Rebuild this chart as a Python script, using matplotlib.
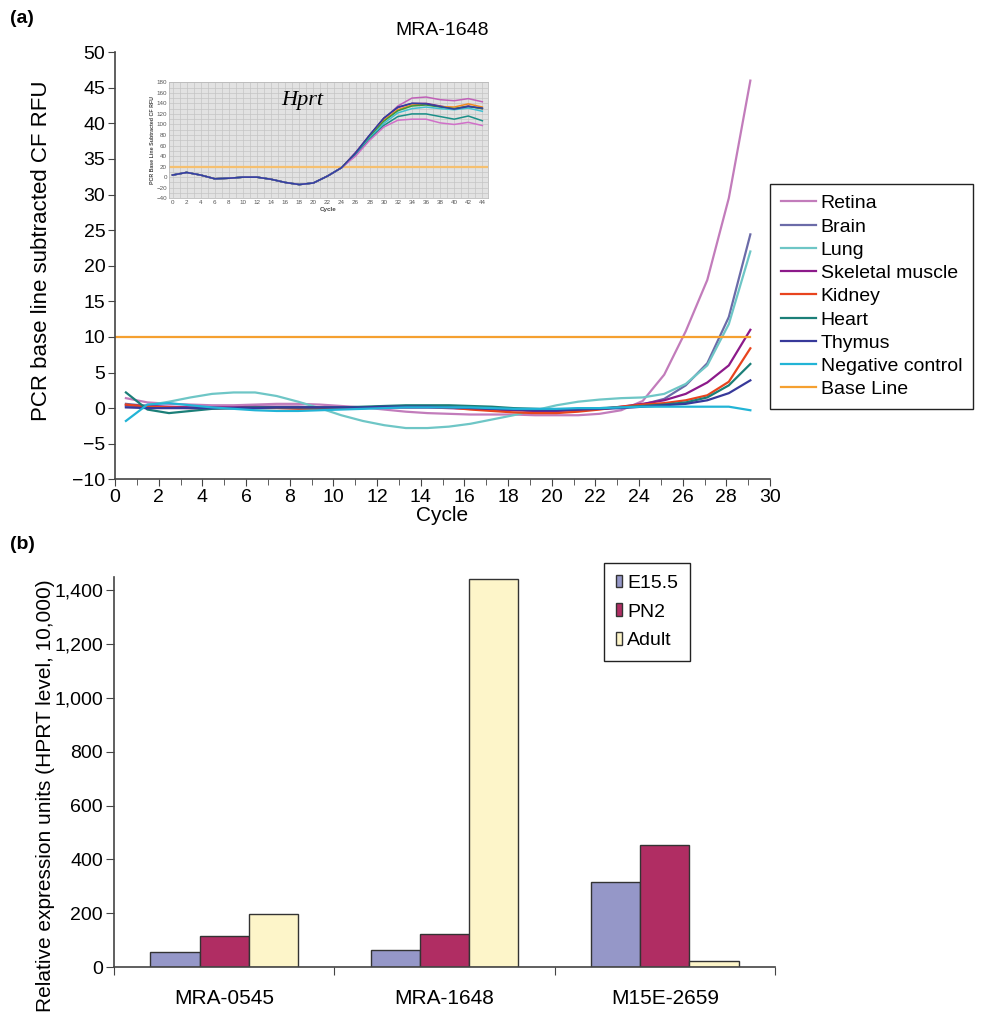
import numpy as np
import matplotlib
matplotlib.use('Agg')
import matplotlib.pyplot as plt

plt.rcParams['font.family'] = ['Liberation Sans', 'DejaVu Sans']

# Datos panel (a): curvas de amplificacion MRA-1648
ciclos = np.linspace(0.5, 29.1, 30)

retina = [1.4, 0.8, 0.6, 0.5, 0.4, 0.4, 0.5, 0.6, 0.6, 0.5, 0.3, 0.1, -0.2, -0.5, -0.7,
          -0.8, -0.9, -0.9, -0.9, -1.0, -1.0, -1.0, -0.8, -0.3, 1.0, 4.7, 10.8, 18.0, 29.5, 46.0]
cerebro = [0.6, 0.3, 0.1, 0.1, 0.1, 0.1, 0.1, 0.1, 0.1, 0.0, 0.0, 0.0, 0.1, 0.1, 0.1,
           0.1, 0.0, -0.1, -0.2, -0.3, -0.3, -0.2, -0.1, 0.1, 0.5, 1.3, 3.2, 6.3, 12.8, 24.4]
pulmon = [0.2, 0.4, 0.9, 1.5, 2.0, 2.2, 2.2, 1.7, 0.9, 0.0, -1.0, -1.8, -2.4, -2.8, -2.8,
          -2.6, -2.2, -1.6, -1.0, -0.3, 0.4, 0.9, 1.2, 1.4, 1.5, 2.0, 3.4, 6.0, 11.8, 22.0]
musculo = [0.4, 0.3, 0.2, 0.1, 0.1, 0.1, 0.2, 0.2, 0.2, 0.1, 0.1, 0.0, 0.1, 0.1, 0.1,
           0.0, -0.1, -0.2, -0.3, -0.4, -0.4, -0.3, -0.1, 0.2, 0.6, 1.1, 2.0, 3.6, 6.0, 11.0]
rinon = [0.5, 0.2, 0.1, 0.0, 0.0, 0.0, 0.0, 0.0, -0.1, -0.1, 0.0, 0.1, 0.2, 0.2, 0.2,
         0.1, -0.2, -0.4, -0.6, -0.7, -0.7, -0.5, -0.2, 0.2, 0.5, 0.7, 1.1, 1.8, 3.7, 8.4]
corazon = [2.2, -0.2, -0.7, -0.4, -0.1, 0.0, 0.1, 0.1, 0.1, 0.1, 0.1, 0.2, 0.3, 0.4, 0.4,
           0.4, 0.3, 0.2, 0.0, -0.1, -0.2, -0.1, 0.0, 0.1, 0.3, 0.5, 0.8, 1.5, 3.2, 6.2]
timo = [0.1, 0.0, 0.0, 0.0, 0.0, 0.0, 0.0, 0.1, 0.1, 0.1, 0.1, 0.1, 0.2, 0.2, 0.2,
        0.1, 0.0, -0.1, -0.2, -0.3, -0.3, -0.2, -0.1, 0.0, 0.2, 0.4, 0.6, 1.1, 2.1, 3.9]
control_neg = [-1.8, 0.5, 0.7, 0.4, 0.1, -0.1, -0.3, -0.4, -0.4, -0.3, -0.2, -0.1, 0.0, 0.1, 0.1,
               0.1, 0.1, 0.0, -0.1, -0.1, -0.1, 0.0, 0.0, 0.1, 0.2, 0.2, 0.2, 0.2, 0.2, -0.3]
linea_base = 10

series = [retina, cerebro, pulmon, musculo, rinon, corazon, timo, control_neg]
etiquetas = ['Retina', 'Brain', 'Lung', 'Skeletal muscle', 'Kidney', 'Heart', 'Thymus',
             'Negative control']
colores = ['#c27cbb', '#6b6ba8', '#6ec6c6', '#8c1a8a', '#e8441e', '#1b7f78', '#37399a',
           '#22b4d6']

# Datos del recuadro (Hprt): ciclos 0-24 comunes, 26-44 por curva
ciclos_ins = [0, 2, 4, 6, 8, 10, 12, 14, 16, 18, 20, 22, 24, 26, 28, 30, 32, 34, 36, 38, 40, 42, 44]
inicio_ins = [4, 9, 4, -3, -2, 0, 0, -4, -10, -14, -11, 2, 18]
finales_ins = [
    [45, 78, 110, 135, 150, 152, 147, 145, 149, 143],
    [47, 80, 112, 132, 140, 140, 135, 130, 135, 130],
    [45, 78, 108, 128, 137, 138, 134, 133, 139, 133],
    [44, 76, 106, 126, 135, 137, 133, 130, 134, 130],
    [43, 74, 102, 122, 130, 133, 130, 128, 131, 125],
    [42, 72, 98, 115, 120, 120, 115, 110, 116, 107],
    [40, 70, 95, 108, 110, 110, 103, 100, 104, 98],
    [46, 80, 112, 133, 140, 139, 134, 129, 134, 131],
]
colores_ins = ['#c060b8', '#7a1a8a', '#f08a20', '#3a9a3a', '#40c0d0', '#1b8f88', '#d070c8', '#3040a0']

# Datos panel (b)
ensayos = ['MRA-0545', 'MRA-1648', 'M15E-2659']
e155 = [56, 62, 316]
pn2 = [115, 122, 452]
adulto = [196, 1443, 22]

fig = plt.figure(figsize=(10, 10.22), dpi=100)

# ---------- Panel (a)
ax = fig.add_axes([0.115, 0.531, 0.655, 0.418])
for s, et, c in zip(series, etiquetas, colores):
    ax.plot(ciclos, s, color=c, lw=1.6, label=et)
ax.plot([0, ciclos[-1]], [linea_base, linea_base], color='#f5a030', lw=1.6, label='Base Line')

ax.set_xlim(0, 30)
ax.set_ylim(-10, 50)
ax.set_xticks(range(0, 31, 2))
ax.set_xticks(range(1, 30, 2), minor=True)
ax.set_yticks(range(-10, 51, 5))
ax.set_yticklabels([str(v).replace('-', '\u2212') for v in range(-10, 51, 5)])
ax.spines['top'].set_visible(False)
ax.spines['right'].set_visible(False)
for sp in ['left', 'bottom']:
    ax.spines[sp].set_color('#444444')
    ax.spines[sp].set_linewidth(1.2)
ax.tick_params(axis='both', which='both', direction='out', color='#444444', labelsize=14)
ax.tick_params(which='major', length=5, pad=2)
ax.tick_params(which='minor', length=4)
ax.set_xlabel('Cycle', fontsize=15, labelpad=0)
ax.set_ylabel('PCR base line subtracted CF RFU', fontsize=16)
ax.yaxis.set_label_coords(-0.096, 0.536)
fig.text(0.442, 0.970, 'MRA-1648', ha='center', va='center', fontsize=14)

ax.legend(loc='upper left', bbox_to_anchor=(0.770, 0.820), bbox_transform=fig.transFigure,
          fontsize=14, frameon=True, fancybox=False, edgecolor='#222222', framealpha=1,
          handlelength=1.8, handletextpad=0.25, labelspacing=0.29, borderpad=0.55,
          borderaxespad=0)

# Recuadro Hprt
ins = fig.add_axes([0.169, 0.806, 0.319, 0.1135])
ins.set_facecolor('#e2e2e2')
ins.set_xlim(-0.5, 44.8)
ins.set_ylim(-40, 180)
ins.set_xticks(range(0, 45, 2))
ins.set_xticks(range(0, 45, 1), minor=True)
ins.set_yticks(range(-40, 181, 20))
ins.set_yticks(range(-40, 181, 10), minor=True)
ins.grid(True, which='both', color='#c4c4c4', lw=0.5)
ins.set_axisbelow(True)
for s in ins.spines.values():
    s.set_color('#bbbbbb')
    s.set_linewidth(0.6)
ins.tick_params(axis='both', which='both', length=0, labelsize=4.5, labelcolor='#555555', pad=1.5)
ins.axhline(20, color='#f5c070', lw=1.6)
for fin, c in zip(finales_ins, colores_ins):
    ins.plot(ciclos_ins, inicio_ins + fin, color=c, lw=1.1)
ins.text(15.5, 146, 'Hprt', family=['Liberation Serif', 'DejaVu Serif'], style='italic',
         fontsize=16, ha='left', va='center')
ins.set_xlabel('Cycle', fontsize=4.5, fontweight='bold', labelpad=1, color='#444444')
ins.set_ylabel('PCR Base Line Subtracted CF RFU', fontsize=3.8, fontweight='bold',
               labelpad=1, color='#444444')

# ---------- Panel (b)
bx = fig.add_axes([0.114, 0.0538, 0.661, 0.3816])
x = np.arange(len(ensayos))
ancho = 0.223
bx.bar(x - ancho, e155, ancho, color='#9597c8', edgecolor='#333333', lw=1, label='E15.5')
bx.bar(x, pn2, ancho, color='#b02d63', edgecolor='#333333', lw=1, label='PN2')
bx.bar(x + ancho, adulto, ancho, color='#fdf5c9', edgecolor='#333333', lw=1, label='Adult')

bx.set_xlim(-0.5, 2.5)
bx.set_ylim(0, 1450)
bx.set_yticks(range(0, 1401, 200))
bx.set_yticklabels([f'{v:,}' for v in range(0, 1401, 200)])
bx.set_xticks([-0.5, 0.5, 1.5, 2.5])
bx.set_xticklabels([])
for xi, nombre in zip(x, ensayos):
    bx.text(xi, -0.08, nombre, transform=bx.get_xaxis_transform(), ha='center', va='center',
            fontsize=15)
bx.spines['top'].set_visible(False)
bx.spines['right'].set_visible(False)
for sp in ['left', 'bottom']:
    bx.spines[sp].set_color('#444444')
    bx.spines[sp].set_linewidth(1.2)
bx.tick_params(axis='both', direction='out', color='#444444', labelsize=14, length=6, pad=2)
bx.set_ylabel('Relative expression units (HPRT level, 10,000)', fontsize=15)
bx.yaxis.set_label_coords(-0.089, 0.44)

bx.legend(loc='upper left', bbox_to_anchor=(0.604, 0.449), bbox_transform=fig.transFigure,
          fontsize=14, frameon=True, fancybox=False, edgecolor='#222222', framealpha=1,
          handlelength=0.35, handleheight=0.6, handletextpad=0.25, labelspacing=0.6,
          borderpad=0.6, borderaxespad=0)

fig.text(0.01, 0.982, '(a)', fontsize=14, fontweight='bold', ha='left', va='center')
fig.text(0.01, 0.467, '(b)', fontsize=14, fontweight='bold', ha='left', va='center')

fig.savefig('out.png', dpi=100)
